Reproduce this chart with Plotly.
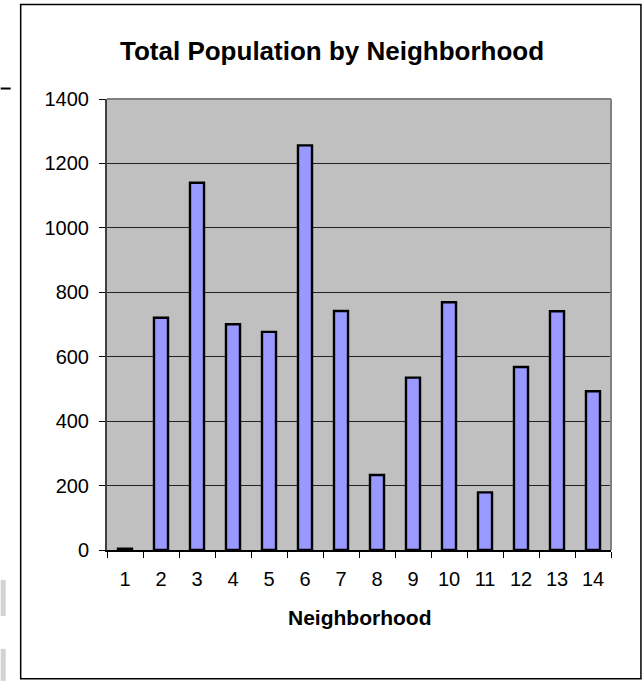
import plotly.graph_objects as go

# Data
neighborhoods = ["1", "2", "3", "4", "5", "6", "7", "8", "9", "10", "11", "12", "13", "14"]
population = [4, 721, 1140, 701, 677, 1256, 742, 233, 535, 769, 179, 568, 741, 493]
y_ticks = [0, 200, 400, 600, 800, 1000, 1200, 1400]

W, H = 643, 681
L, R, T, B = 106.5, 31.5, 98.5, 131
PW, PH = W - L - R, H - T - B

def px2x(px):
    return (px - L) / PW

def py2y(py):
    return 1 - (py - T) / PH

FONT = "Liberation Sans, Arial, sans-serif"

fig = go.Figure(
    go.Bar(
        x=neighborhoods,
        y=population,
        marker=dict(color="#9999FF", line=dict(color="black", width=2.4)),
        width=0.39,
    )
)

shapes = [
    # outer chart border
    dict(type="rect", xref="paper", yref="paper",
         x0=px2x(20), x1=px2x(641.5), y0=py2y(679), y1=py2y(4),
         line=dict(color="black", width=1.5), fillcolor="rgba(0,0,0,0)", layer="below"),
    # plot-area top/right border
    dict(type="line", xref="paper", yref="paper", x0=0, x1=1, y0=1, y1=1,
         line=dict(color="#808080", width=2)),
    dict(type="line", xref="paper", yref="paper", x0=1, x1=1, y0=0, y1=1,
         line=dict(color="#808080", width=2)),
    # stray marks on the left edge
    dict(type="line", xref="paper", yref="paper", x0=px2x(0), x1=px2x(10),
         y0=py2y(88), y1=py2y(88), line=dict(color="black", width=2)),
    dict(type="rect", xref="paper", yref="paper", x0=px2x(0), x1=px2x(5),
         y0=py2y(616), y1=py2y(580), line=dict(width=0), fillcolor="#D3D3D3"),
    dict(type="rect", xref="paper", yref="paper", x0=px2x(0), x1=px2x(5),
         y0=py2y(681), y1=py2y(649), line=dict(width=0), fillcolor="#D3D3D3"),
]

annotations = [
    dict(text="<b>Total Population by Neighborhood</b>", xref="paper", yref="paper",
         x=px2x(331.5), y=py2y(50), xanchor="center", yanchor="middle", showarrow=False,
         font=dict(family=FONT, size=26, color="black")),
    dict(text="<b>Neighborhood</b>", xref="paper", yref="paper",
         x=0.5, y=py2y(618), xanchor="center", yanchor="middle", showarrow=False,
         font=dict(family=FONT, size=21, color="black")),
]

fig.update_layout(
    width=W, height=H,
    margin=dict(l=L, r=R, t=T, b=B, pad=0),
    paper_bgcolor="white",
    plot_bgcolor="#C0C0C0",
    showlegend=False,
    font=dict(family=FONT, size=20, color="black"),
    bargap=0.61,
    shapes=shapes,
    annotations=annotations,
    xaxis=dict(
        type="category",
        tickson="boundaries",
        ticks="outside", ticklen=6, tickwidth=1, tickcolor="black",
        showline=True, linecolor="black", linewidth=1.5,
        showgrid=False,
        tickfont=dict(family=FONT, size=20, color="black"),
        ticklabelstandoff=10,
        fixedrange=True,
    ),
    yaxis=dict(
        range=[0, 1400],
        tickvals=y_ticks,
        ticktext=[str(v) for v in y_ticks],
        ticks="outside", ticklen=6, tickwidth=1, tickcolor="black",
        showline=True, linecolor="#404040", linewidth=2,
        showgrid=True, gridcolor="#222222", gridwidth=1,
        zeroline=False,
        tickfont=dict(family=FONT, size=20, color="black"),
        ticklabelstandoff=6,
        fixedrange=True,
    ),
)

fig.write_html(
    "out.html",
    config={"displayModeBar": False},
    post_script="document.body.style.margin='0';document.body.style.overflow='hidden';",
)
